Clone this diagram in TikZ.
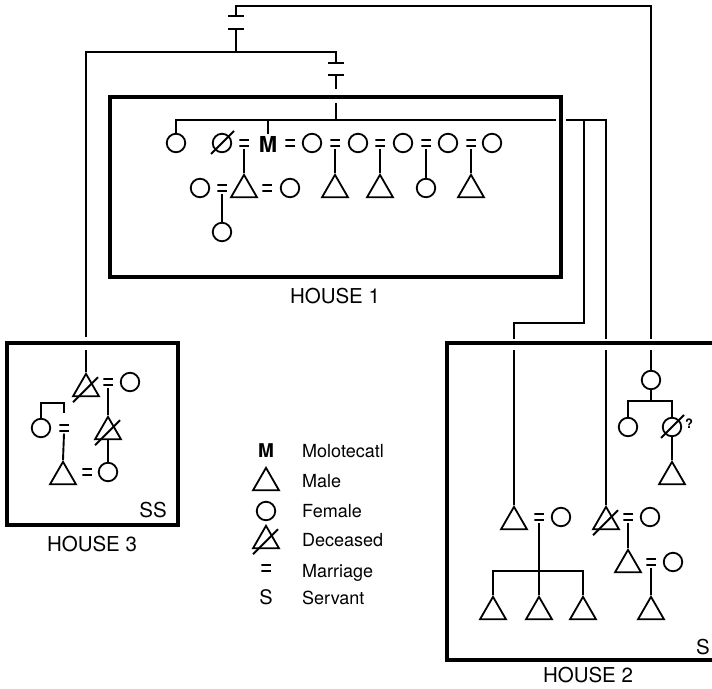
\documentclass[tikz,border=0pt]{standalone}
\usepackage{fontspec}
\setmainfont{TeX Gyre Heros}
\usetikzlibrary{shapes.geometric}
\tikzset{
  ln/.style={line width=1.9pt},
  housebox/.style={line width=3.1pt, line join=miter},
  fem/.style={circle, draw, line width=1.8pt, minimum size=18.5pt, inner sep=0pt},
  male/.style={regular polygon, regular polygon sides=3, draw, line width=1.8pt, minimum size=30pt, inner sep=0pt, anchor=north},
  eqs/.style={minimum width=9.5pt, minimum height=11pt, inner sep=0pt, path picture={
     \draw[line width=1.8pt] ([yshift=2.7pt]path picture bounding box.west) -- ([yshift=2.7pt]path picture bounding box.east);
     \draw[line width=1.8pt] ([yshift=-2.7pt]path picture bounding box.west) -- ([yshift=-2.7pt]path picture bounding box.east);}},
  hlabel/.style={font=\fontsize{20.5}{24}\selectfont, inner sep=0pt, anchor=base},
  leg/.style={font=\fontsize{18}{22}\selectfont, inner sep=0pt, anchor=base west},
  legsym/.style={font=\fontsize{20}{22}\selectfont, inner sep=0pt, anchor=base},
}
\newcommand{\dtri}[1]{\draw[ln] ([shift={(-13,5)}]#1.south) -- ([shift={(12,-20)}]#1.south);}
\newcommand{\dcir}[1]{\draw[ln] ([shift={(-11,11)}]#1.center) -- ([shift={(12,-12)}]#1.center);}
\begin{document}
\begin{tikzpicture}[x=1pt,y=-1pt]
\useasboundingbox (0,0) rectangle (712,688);

% house boxes
\draw[housebox] (110,97) rectangle (561,277);
\draw[housebox] (7,343) rectangle (178,525);
\draw[housebox] (716,343) -- (447,343) -- (447,660) -- (716,660);

% top link coordinates
\coordinate (k1) at (236,16);
\coordinate (k2) at (236,29);
\coordinate (k3) at (336,63);
\coordinate (k4) at (336,75);
\coordinate (in1) at (336,103);
\coordinate (br1) at (336,120);
\coordinate (h3out) at (86,337);
\coordinate (h3in) at (86,350);
\coordinate (h2aout) at (514,339);
\coordinate (h2ain) at (514,350);
\coordinate (h2bout) at (606,339);
\coordinate (h2bin) at (606,350);
\coordinate (h2cout) at (651,339);
\coordinate (h2cin) at (651,350);

\draw[ln] ([xshift=-8pt]k1) -- ([xshift=8pt]k1);
\draw[ln] (k1) -- (236,6) -- (651,6) -- (h2cout);
\draw[ln] ([xshift=-8pt]k2) -- ([xshift=8pt]k2);
\draw[ln] (k2) -- (236,52);
\draw[ln] (h3out) -- (86,52) -- (336,52) -- (k3);
\draw[ln] ([xshift=-8pt]k3) -- ([xshift=8pt]k3);
\draw[ln] ([xshift=-8pt]k4) -- ([xshift=8pt]k4);
\draw[ln] (k4) -- (336,89);

% ---------- HOUSE 1 ----------
\node[fem] (c1) at (176,143) {};
\node[fem] (dc) at (222,143) {}; \dcir{dc}
\node[eqs] (e1) at (244,143) {};
\node[font=\fontsize{22}{24}\selectfont\bfseries, inner sep=2pt] (M) at (268,144) {M};
\node[eqs] (e2) at (290,143) {};
\node[fem] (c2) at (312,143) {};
\node[eqs] (e3) at (335,143) {};
\node[fem] (c3) at (358,143) {};
\node[eqs] (e4) at (380,143) {};
\node[fem] (c4) at (403,143) {};
\node[eqs] (e5) at (426,143) {};
\node[fem] (c5) at (448,143) {};
\node[eqs] (e6) at (471,143) {};
\node[fem] (c6) at (492,143) {};

\node[male] (t1) at (244,173) {};
\node[eqs] (e7) at (222,188) {};
\node[fem] (c7) at (200,188) {};
\node[eqs] (e8) at (267,188) {};
\node[fem] (c8) at (290,188) {};
\node[fem] (c9) at (222,232) {};
\node[male] (t2) at (335,173) {};
\node[male] (t3) at (380,173) {};
\node[fem] (c10) at (426,188) {};
\node[male] (t4) at (471,173) {};

\draw[ln] (in1) -- (br1);
\draw[ln] (c1.north) -- (176,120) -- (556,120);
\draw[ln] (M.north) -- (268,120);
\draw[ln] (566,120) -- (606,120) -- (h2bout);
\draw[ln] (584,120) -- (584,323) -- (514,323) -- (h2aout);
\draw[ln] (e1.south) -- (t1.north);
\draw[ln] (e7.south) -- (c9.north);
\draw[ln] (e3.south) -- (t2.north);
\draw[ln] (e4.south) -- (t3.north);
\draw[ln] (e5.south) -- (c10.north);
\draw[ln] (e6.south) -- (t4.north);

\node[hlabel] (h1) at (335,303) {HOUSE 1};

% ---------- HOUSE 3 ----------
\node[male] (d1) at (86,372) {}; \dtri{d1}
\node[eqs] (e9) at (108,382) {};
\node[fem] (c11) at (130,382) {};
\node[male] (d2) at (108,415) {}; \dtri{d2}
\node[fem] (c12) at (41,428) {};
\node[eqs] (e10) at (64,428) {};
\node[male] (t5) at (63,460) {};
\node[eqs] (e11) at (87,472) {};
\node[fem] (c13) at (108,472) {};
\coordinate (b3) at (64,413);
\draw[ln] (h3in) -- (d1.north);
\draw[ln] (e9.south) -- (d2.north);
\draw[ln] (c12.north) -- (41,403) -- (64,403) -- (b3);
\draw[ln] (e10.south) -- (t5.north);
\draw[ln] (d2.south) -- (c13.north);
\node[hlabel] (ss) at (153,517) {SS};
\node[hlabel] (h3) at (92,551) {HOUSE 3};

% ---------- HOUSE 2 ----------
\node[fem] (c14) at (651,380) {};
\node[fem] (c15) at (628,427) {};
\node[fem] (dc2) at (672,427) {}; \dcir{dc2}
\node[font=\fontsize{13}{15}\selectfont\bfseries, inner sep=0pt] (q) at (689,424) {?};
\node[male] (t6) at (672,460) {};
\draw[ln] (h2cin) -- (c14.north);
\draw[ln] (c14.south) -- (651,401);
\draw[ln] (c15.north) -- (628,401) -- (672,401) -- (dc2.north);
\draw[ln] (dc2.south) -- (t6.north);

\node[male] (t7) at (514,505) {};
\node[eqs] (e12) at (539,517) {};
\node[fem] (c16) at (561,517) {};
\node[male] (t8) at (493,595) {};
\node[male] (t9) at (539,595) {};
\node[male] (t10) at (583,595) {};
\draw[ln] (h2ain) -- (t7.north);
\draw[ln] (e12.south) -- (t9.north);
\draw[ln] (t8.north) -- (493,571) -- (583,571) -- (t10.north);

\node[male] (d3) at (606,505) {}; \dtri{d3}
\node[eqs] (e13) at (628,517) {};
\node[fem] (c17) at (650,517) {};
\node[male] (t11) at (628,548) {};
\node[eqs] (e14) at (651,562) {};
\node[fem] (c18) at (673,562) {};
\node[male] (t12) at (651,595) {};
\draw[ln] (h2bin) -- (d3.north);
\draw[ln] (e13.south) -- (t11.north);
\draw[ln] (e14.south) -- (t12.north);
\node[hlabel] (s2) at (703,654) {S};
\node[hlabel] (h2) at (588,682) {HOUSE 2};

% ---------- LEGEND ----------
\node[legsym, font=\fontsize{19}{22}\selectfont\bfseries] (lM) at (266,457) {M};
\node[male] (lt) at (266,466) {};
\node[fem] (lc) at (266,511) {};
\node[male] (ld) at (266,524) {}; \dtri{ld}
\node[eqs] (le) at (266,568) {};
\node[legsym] (lS) at (266,604) {S};
\node[leg] (tM) at (302,457) {Molotecatl};
\node[leg] (tMa) at (302,487) {Male};
\node[leg] (tF) at (302,517) {Female};
\node[leg] (tD) at (302,546) {Deceased};
\node[leg] (tMr) at (302,577) {Marriage};
\node[leg] (tS) at (302,604) {Servant};
\end{tikzpicture}
\end{document}
